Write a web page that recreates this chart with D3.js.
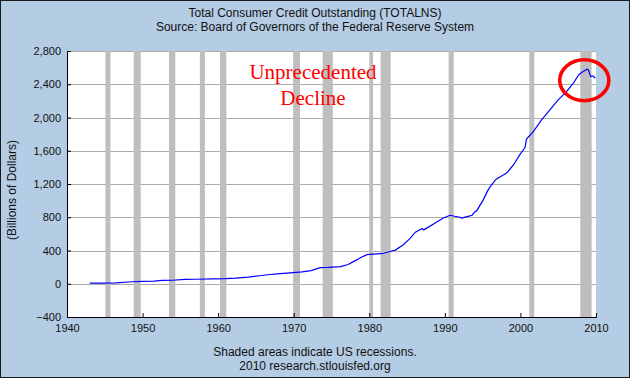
<!DOCTYPE html>
<html>
<head>
<meta charset="utf-8">
<script src="https://cdn.jsdelivr.net/npm/d3@7"></script>
<style>
  html, body { margin: 0; padding: 0; background: #b4cce4; }
  svg { display: block; }
</style>
</head>
<body>
<svg id="chart" width="630" height="378"></svg>
<script>
// ---- data ----
const years = [1943.0, 1945.0, 1946.5, 1948.6, 1950.0, 1951.5, 1952.6, 1954.0, 1955.6, 1957.0, 1959.4,
  1961.0, 1962.3, 1964.0, 1965.5, 1966.5, 1968.2, 1969.5, 1971.1, 1972.3, 1973.5, 1974.5, 1976.2,
  1977.2, 1977.9, 1978.4, 1978.8, 1979.7, 1980.5, 1981.4, 1981.8, 1983.2, 1983.4, 1984.5, 1985.4,
  1986.1, 1987.0, 1987.2, 1988.5, 1989.8, 1990.7, 1991.3, 1992.0, 1992.2, 1993.3, 1993.6, 1994.0,
  1994.2, 1995.1, 1995.6, 1996.0, 1996.7, 1996.9, 1998.0, 1998.2, 1999.1, 1999.9, 2000.4, 2000.6,
  2000.8, 2001.7, 2002.8, 2003.9, 2005.0, 2006.1, 2007.0, 2007.7, 2008.1, 2008.8, 2009.0, 2009.3,
  2009.6, 2009.9];
const credit = [8, 8, 10, 24, 28, 32, 40, 42, 52, 54, 58,
  62, 68, 80, 96, 108, 122, 132, 142, 158, 194, 196, 206,
  232, 266, 290, 312, 350, 356, 362, 364, 400, 402, 470, 545,
  620, 664, 648, 720, 792, 824, 812, 800, 790, 816, 824, 868,
  876, 1012, 1108, 1168, 1250, 1262, 1324, 1334, 1432, 1550, 1612, 1636,
  1740, 1830, 1972, 2092, 2212, 2312, 2412, 2512, 2540, 2580, 2572, 2492,
  2500, 2472];
const recessionStart = [1945.08, 1948.83, 1953.5, 1957.58, 1960.25, 1969.92, 1973.83, 1980.0, 1981.5, 1990.5, 2001.17, 2007.92];
const recessionEnd   = [1945.75, 1949.75, 1954.33, 1958.25, 1961.08, 1970.83, 1975.17, 1980.5, 1982.83, 1991.17, 2001.83, 2009.42];
const xTicks = [1940, 1950, 1960, 1970, 1980, 1990, 2000, 2010];
const yTicks = [-400, 0, 400, 800, 1200, 1600, 2000, 2400, 2800];
const titleLines = ["Total Consumer Credit Outstanding (TOTALNS)", "Source: Board of Governors of the Federal Reserve System"];
const captionLines = ["Shaded areas indicate US recessions.", "2010 research.stlouisfed.org"];
const yTitle = "(Billions of Dollars)";
const annotationLines = ["Unprecedented", "Decline"];
const circledPeriod = [2005.2, 2011.7];   // span of the red ellipse (years)
const circledRange = [2202, 2694];        // span of the red ellipse (values)

// ---- drawing ----
const W = 630, H = 378;
const m = {left: 67, right: 34, top: 51, bottom: 61};
const svg = d3.select("#chart");
const font = "Liberation Sans, Arial, sans-serif";

svg.append("rect").attr("x", 0.5).attr("y", 0.5).attr("width", W - 1).attr("height", H - 1)
  .attr("fill", "#b4cce4").attr("stroke", "#1a1a1a");

const x = d3.scaleLinear().domain([1940, 2010]).range([m.left, W - m.right]);
const y = d3.scaleLinear().domain([-400, 2800]).range([H - m.bottom, m.top]);

svg.append("rect").attr("x", x(1940)).attr("y", y(2800))
  .attr("width", x(2010) - x(1940)).attr("height", y(-400) - y(2800)).attr("fill", "#fff");

// grid
svg.append("g").selectAll("line").data(yTicks.filter(d => d > -400)).join("line")
  .attr("x1", x(1940)).attr("x2", x(2010))
  .attr("y1", d => Math.round(y(d)) + 0.5).attr("y2", d => Math.round(y(d)) + 0.5)
  .attr("stroke", "#aaaaaa").attr("stroke-width", 1);

// recession bars
svg.append("g").selectAll("rect").data(recessionStart.map((s, i) => [s, recessionEnd[i]])).join("rect")
  .attr("x", d => x(d[0])).attr("width", d => x(d[1]) - x(d[0]))
  .attr("y", y(2800)).attr("height", y(-400) - y(2800))
  .attr("fill", "#bebebe");

// line
const pts = years.map((t, i) => [t, credit[i]]);
svg.append("path").datum(pts)
  .attr("d", d3.line().x(d => x(d[0])).y(d => y(d[1])))
  .attr("fill", "none").attr("stroke", "#0000ff").attr("stroke-width", 1.2);

// axes
const yAxis = svg.append("g").attr("transform", `translate(${x(1940)},0)`)
  .call(d3.axisLeft(y).tickValues(yTicks).tickFormat(d3.format(",")).tickSize(-4).tickPadding(6));
const xAxis = svg.append("g").attr("transform", `translate(0,${y(-400)})`)
  .call(d3.axisBottom(x).tickValues(xTicks).tickFormat(d3.format("d")).tickSize(-4).tickPadding(7));
[yAxis, xAxis].forEach(g => {
  g.select(".domain").attr("stroke", "#000");
  g.selectAll(".tick line").attr("stroke", "#000");
  g.selectAll("text").attr("font-family", font).attr("font-size", 11).attr("fill", "#111");
});
xAxis.selectAll(".tick line").filter(d => d === 1940 || d === 2010).remove();

// titles
svg.append("g").selectAll("text").data(titleLines).join("text")
  .attr("x", W / 2).attr("y", (d, i) => 17 + i * 14).attr("text-anchor", "middle")
  .attr("font-family", font).attr("font-size", 12).attr("fill", "#111").text(d => d);
svg.append("g").selectAll("text").data(captionLines).join("text")
  .attr("x", W / 2).attr("y", (d, i) => 356 + i * 14).attr("text-anchor", "middle")
  .attr("font-family", font).attr("font-size", 12).attr("fill", "#111").text(d => d);
svg.append("text").attr("transform", `translate(16,190) rotate(-90)`).attr("text-anchor", "middle")
  .attr("font-family", font).attr("font-size", 12).attr("fill", "#111").text(yTitle);

// annotation
svg.append("g").selectAll("text").data(annotationLines).join("text")
  .attr("x", 313).attr("y", (d, i) => 79 + i * 26).attr("text-anchor", "middle")
  .attr("font-family", "Liberation Serif, Times New Roman, serif").attr("font-size", 21)
  .attr("fill", "#ff0000").text(d => d);
svg.append("ellipse")
  .attr("cx", (x(circledPeriod[0]) + x(circledPeriod[1])) / 2)
  .attr("cy", (y(circledRange[0]) + y(circledRange[1])) / 2)
  .attr("rx", (x(circledPeriod[1]) - x(circledPeriod[0])) / 2)
  .attr("ry", (y(circledRange[0]) - y(circledRange[1])) / 2)
  .attr("fill", "none").attr("stroke", "#ff0000").attr("stroke-width", 3.5);
</script>
</body>
</html>
